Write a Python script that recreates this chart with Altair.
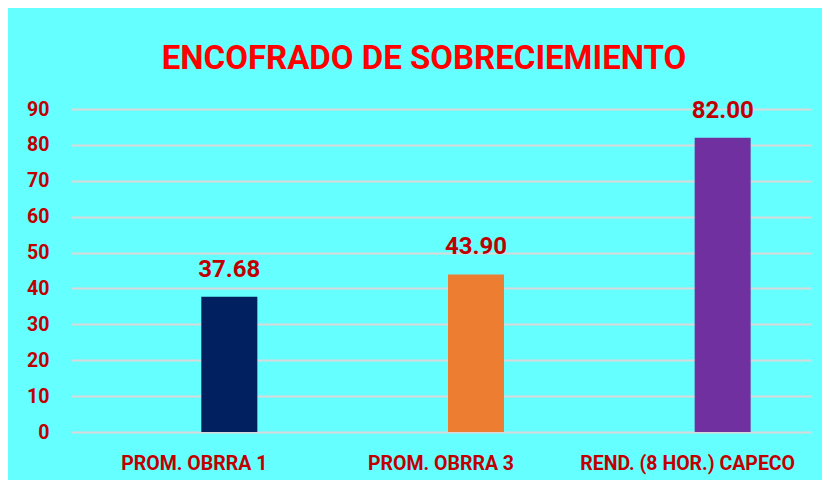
import altair as alt
import pandas as pd

categories = ["PROM. OBRRA 1", "PROM. OBRRA 3", "REND. (8 HOR.) CAPECO"]
values = [37.68, 43.90, 82.00]
colors = ["#002060", "#ED7D31", "#7030A0"]
y_ticks = [0, 10, 20, 30, 40, 50, 60, 70, 80, 90]

df = pd.DataFrame({
    "cat": categories,
    "val": values,
    "color": colors,
    "label": [f"{v:.2f}" for v in values],
})

FONT = "Roboto"
LBL = "#C00000"

x = alt.X("cat:N", sort=categories,
          scale=alt.Scale(paddingInner=0, paddingOuter=0),
          axis=alt.Axis(title=None, labelAngle=0, labelFont=FONT, labelFontSize=19.5,
                        labelFontWeight="bold", labelColor=LBL, domain=False, ticks=False,
                        labelPadding=22, grid=False, labelLimit=400, labelOverlap=False))
y = alt.Y("val:Q", scale=alt.Scale(domain=[0, 90], nice=False),
          axis=alt.Axis(title=None, values=y_ticks, tickCount=10, labelFont=FONT,
                        labelFontSize=19.5, labelFontWeight="bold", labelColor=LBL,
                        domain=False, ticks=False, labelPadding=22,
                        gridColor="#D9D9D9", gridWidth=2, labelOverlap=False))

base = alt.Chart(df).encode(x=x, y=y)

bars = base.mark_bar(width=56, xOffset=35).encode(
    color=alt.Color("color:N", scale=None)
)

texts = base.mark_text(
    font=FONT, fontSize=24, fontWeight="bold", color=LBL,
    baseline="alphabetic", dy=-20, dx=35
).encode(text="label:N")

chart = alt.layer(bars, texts).properties(
    width=740, height=323,
    autosize=alt.AutoSizeParams(type="none"),
    padding={"left": 63, "top": 101, "right": 11, "bottom": 48},
    background="#66FFFF",
    title=alt.TitleParams("ENCOFRADO DE SOBRECIEMIENTO", font=FONT, fontSize=33,
                          fontWeight="bold", color="#FF0000", anchor="middle",
                          frame="group", dx=-17, offset=-3, baseline="alphabetic"),
).configure_view(stroke=None)

chart.save("out.html", embed_options={"renderer": "svg", "actions": False})
